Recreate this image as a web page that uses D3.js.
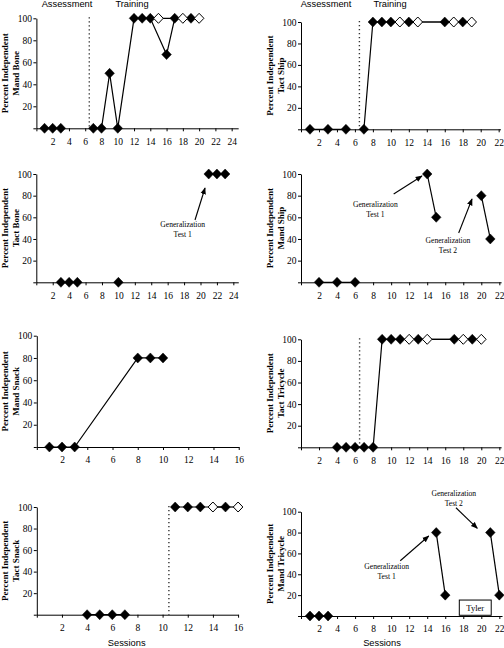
<!DOCTYPE html>
<html><head><meta charset="utf-8">
<script src="https://cdn.jsdelivr.net/npm/d3@7/dist/d3.min.js"></script>
<style>body{margin:0;background:#fff}svg{display:block}</style>
</head><body><svg id="c" width="504" height="648"></svg>
<script>
// ---------- DATA ----------
// Mand Bone
const mandBoneBaseSessions = [1, 2, 3];
const mandBoneBaseValues   = [0, 0, 0];
const mandBoneTrainSessions = [7, 8, 9, 10, 12, 13, 14, 16, 17, 19];
const mandBoneTrainValues   = [0, 0, 50, 0, 100, 100, 100, 67, 100, 100];
const mandBoneProbeSessions = [15, 18, 20];
const mandBoneProbeValues   = [100, 100, 100];
// Tact Ship
const tactShipBaseSessions = [1, 3, 5];
const tactShipBaseValues   = [0, 0, 0];
const tactShipTrainSessions = [7, 8, 9, 10, 12, 16, 18];
const tactShipTrainValues   = [0, 100, 100, 100, 100, 100, 100];
const tactShipProbeSessions = [11, 13, 17, 19];
const tactShipProbeValues   = [100, 100, 100, 100];
// Tact Bone
const tactBoneBaseSessions = [3, 4, 5];
const tactBoneBaseValues   = [0, 0, 0];
const tactBoneMidSessions = [10];
const tactBoneMidValues   = [0];
const tactBoneGenSessions = [21, 22, 23];
const tactBoneGenValues   = [100, 100, 100];
// Mand Ship
const mandShipBaseSessions = [2, 4, 6];
const mandShipBaseValues   = [0, 0, 0];
const mandShipGen1Sessions = [14, 15];
const mandShipGen1Values   = [100, 60];
const mandShipGen2Sessions = [20, 21];
const mandShipGen2Values   = [80, 40];
// Mand Snack
const mandSnackSessions = [1, 2, 3, 8, 9, 10];
const mandSnackValues   = [0, 0, 0, 80, 80, 80];
// Tact Tricycle
const tactTriTrainSessions = [4, 5, 6, 7, 8, 9, 10, 11, 13, 17, 19];
const tactTriTrainValues   = [0, 0, 0, 0, 0, 100, 100, 100, 100, 100, 100];
const tactTriProbeSessions = [12, 14, 18, 20];
const tactTriProbeValues   = [100, 100, 100, 100];
// Tact Snack
const tactSnackBaseSessions = [4, 5, 6, 7];
const tactSnackBaseValues   = [0, 0, 0, 0];
const tactSnackTrainSessions = [11, 12, 13, 15];
const tactSnackTrainValues   = [100, 100, 100, 100];
const tactSnackProbeSessions = [14, 16];
const tactSnackProbeValues   = [100, 100];
// Mand Tricycle
const mandTriBaseSessions = [1, 2, 3];
const mandTriBaseValues   = [0, 0, 0];
const mandTriGen1Sessions = [15, 16];
const mandTriGen1Values   = [80, 20];
const mandTriGen2Sessions = [21, 22];
const mandTriGen2Values   = [80, 20];

const yTickValues = [0, 20, 40, 60, 80, 100];
const xTicks24 = [2, 4, 6, 8, 10, 12, 14, 16, 18, 20, 22, 24];
const xTicks22 = [2, 4, 6, 8, 10, 12, 14, 16, 18, 20, 22];
const xTicks16 = [2, 4, 6, 8, 10, 12, 14, 16];

const phaseLabels = ["Assessment", "Training"];
const xTitle = "Sessions";
const yTitle1 = "Percent Independent";
const genLabel = "Generalization";

// ---------- LAYOUT ----------
const S = (s, v, open) => ({ s, v, open });
const panels = [
  { name: "Mand Bone", x0: 36.4, unit: 8.136, xEnd: 24.8, ticks: xTicks24, yTop: 18.3, yBot: 128.3, labX: 36,
    phase: 6.5, phaseText: [[67, "Assessment"], [132, "Training"]],
    series: [S(mandBoneBaseSessions, mandBoneBaseValues, false), S(mandBoneTrainSessions, mandBoneTrainValues, false), S(mandBoneProbeSessions, mandBoneProbeValues, true)] },
  { name: "Tact Ship", x0: 301, unit: 8.985, xEnd: 22.2, ticks: xTicks22, yTop: 22, yBot: 129.3, labX: 301,
    phase: 6.5, phaseText: [[326, "Assessment"], [390, "Training"]],
    series: [S(tactShipBaseSessions, tactShipBaseValues, false), S(tactShipTrainSessions, tactShipTrainValues, false), S(tactShipProbeSessions, tactShipProbeValues, true)] },
  { name: "Tact Bone", x0: 36.3, unit: 8.21, xEnd: 24.6, ticks: xTicks24, yTop: 174, yBot: 282.3, labX: 36,
    series: [S(tactBoneBaseSessions, tactBoneBaseValues, false), S(tactBoneMidSessions, tactBoneMidValues, false), S(tactBoneGenSessions, tactBoneGenValues, false)],
    notes: [{ tx: 17.83, ty: 51.5, lines: [genLabel, "Test 1"], ax: [19.33, 57.5], ah: [20.55, 87.1] }] },
  { name: "Mand Ship", x0: 301, unit: 9.015, xEnd: 22.2, ticks: xTicks22, yTop: 174, yBot: 282.3, labX: 301,
    series: [S(mandShipBaseSessions, mandShipBaseValues, false), S(mandShipGen1Sessions, mandShipGen1Values, false), S(mandShipGen2Sessions, mandShipGen2Values, false)],
    notes: [{ tx: 8.25, ty: 69.1, lines: [genLabel, "Test 1"], ax: [10.28, 81.5], ah: [13.42, 98.2] },
            { tx: 16.3, ty: 36.7, lines: [genLabel, "Test 2"], ax: [17.49, 45.5], ah: [18.97, 76.9] }] },
  { name: "Mand Snack", x0: 36.8, unit: 12.62, xEnd: 16, ticks: xTicks16, yTop: 335.7, yBot: 447, labX: 36,
    series: [S(mandSnackSessions, mandSnackValues, false)] },
  { name: "Tact Tricycle", x0: 301, unit: 9.015, xEnd: 22.2, ticks: xTicks22, yTop: 339.3, yBot: 447.3, labX: 301,
    phase: 6.5,
    series: [S(tactTriTrainSessions, tactTriTrainValues, false), S(tactTriProbeSessions, tactTriProbeValues, true)] },
  { name: "Tact Snack", x0: 36.8, unit: 12.58, xEnd: 16, ticks: xTicks16, yTop: 507, yBot: 614.7, labX: 36,
    phase: 10.5, xTitleX: 126.7,
    series: [S(tactSnackBaseSessions, tactSnackBaseValues, false), S(tactSnackTrainSessions, tactSnackTrainValues, false), S(tactSnackProbeSessions, tactSnackProbeValues, true)] },
  { name: "Mand Tricycle", x0: 301, unit: 9.015, xEnd: 22.3, ticks: xTicks22, yTop: 511.7, yBot: 616, labX: 301,
    xTitleX: 382,
    series: [S(mandTriBaseSessions, mandTriBaseValues, false), S(mandTriGen1Sessions, mandTriGen1Values, false), S(mandTriGen2Sessions, mandTriGen2Values, false)],
    notes: [{ tx: 9.5, ty: 45.1, lines: [genLabel, "Test 1"], ax: [11.01, 53.0], ah: [14.17, 76.7] },
            { tx: 16.95, ty: 114.6, lines: [genLabel, "Test 2"], ax: [17.19, 103.8], ah: [19.56, 84.1] }],
    box: { x1: 17.56, x2: 21.1, y1: 15.3, y2: 0.7, text: "Tyler" } }
];

const svg = d3.select("#c");
const defs = svg.append("defs");
defs.append("marker").attr("id", "ah").attr("viewBox", "0 0 10 10").attr("refX", 9).attr("refY", 5)
  .attr("markerWidth", 7).attr("markerHeight", 7).attr("markerUnits", "userSpaceOnUse").attr("orient", "auto")
  .append("path").attr("d", "M0,1L10,5L0,9Z").attr("fill", "#000");

const serif = "'Liberation Serif','Times New Roman',serif";
const sans = "'Liberation Sans',Arial,sans-serif";
const diamond = "M0,-5L4.8,0L0,5L-4.8,0Z";

panels.forEach(p => {
  const x = d3.scaleLinear().domain([0, p.xEnd]).range([p.x0, p.x0 + p.unit * p.xEnd]);
  const y = d3.scaleLinear().domain([0, 100]).range([p.yBot, p.yTop]);
  const g = svg.append("g");

  // x axis
  const xa = g.append("g").attr("transform", `translate(0,${p.yBot})`)
    .call(d3.axisBottom(x).tickValues([0].concat(p.ticks)).tickFormat(d => d === 0 ? "" : d)
      .tickSize(3).tickSizeOuter(0).tickPadding(6.5));
  // y axis
  const ya = g.append("g").attr("transform", `translate(${p.x0},0)`)
    .call(d3.axisLeft(y).tickValues(yTickValues).tickFormat(d => d === 0 ? "" : d)
      .tickSize(3).tickSizeOuter(0).tickPadding(1.5));
  [xa, ya].forEach(a => {
    a.selectAll("path,line").attr("stroke", "#000").attr("stroke-width", 1);
    a.selectAll("text").attr("fill", "#000").style("font-family", serif).style("font-size", "9.5px");
  });

  // y title
  const cy = (p.yTop + p.yBot) / 2;
  const lx = p.labX === 36 ? 0 : 265;
  g.append("text").attr("transform", `translate(${lx + 8.3},${cy}) rotate(-90)`).attr("text-anchor", "middle")
    .style("font-family", serif).style("font-weight", "bold").style("font-size", "9px").text(yTitle1);
  g.append("text").attr("transform", `translate(${lx + 18.8},${cy}) rotate(-90)`).attr("text-anchor", "middle")
    .style("font-family", serif).style("font-weight", "bold").style("font-size", "9px").text(p.name);

  // phase line
  if (p.phase !== undefined) {
    g.append("line").attr("x1", x(p.phase)).attr("x2", x(p.phase)).attr("y1", y(101)).attr("y2", y(0))
      .attr("stroke", "#333").attr("stroke-width", 1.4).attr("stroke-dasharray", "1.3,2.7");
  }
  if (p.phaseText) {
    p.phaseText.forEach(([tx, t]) => g.append("text").attr("x", tx).attr("y", 6.5).attr("text-anchor", "middle")
      .style("font-family", sans).style("font-size", "9.3px").text(t));
  }
  if (p.xTitleX !== undefined) {
    g.append("text").attr("x", p.xTitleX).attr("y", 646).attr("text-anchor", "middle")
      .style("font-family", sans).style("font-size", "9.3px").text(xTitle);
  }

  // lines
  const line = d3.line().x(d => x(d[0])).y(d => y(d[1]));
  p.series.forEach(s => {
    const pts = s.s.map((v, i) => [v, s.v[i]]);
    if (pts.length > 1) g.append("path").attr("d", line(pts)).attr("fill", "none").attr("stroke", "#000").attr("stroke-width", 1.2);
  });
  // markers (filled first, then open on top)
  p.series.forEach(s => {
    s.s.forEach((v, i) => {
      g.append("path").attr("d", diamond).attr("transform", `translate(${x(v)},${y(s.v[i])})`)
        .attr("fill", s.open ? "#fff" : "#000").attr("stroke", "#000").attr("stroke-width", s.open ? 1 : 0.5);
    });
  });

  // annotations
  (p.notes || []).forEach(n => {
    n.lines.forEach((t, i) => g.append("text").attr("x", x(n.tx)).attr("y", y(n.ty) + i * 10).attr("text-anchor", "middle")
      .style("font-family", serif).style("font-size", "7.6px").text(t));
    g.append("line").attr("x1", x(n.ax[0])).attr("y1", y(n.ax[1])).attr("x2", x(n.ah[0])).attr("y2", y(n.ah[1]))
      .attr("stroke", "#000").attr("stroke-width", 1.1).attr("marker-end", "url(#ah)");
  });
  if (p.box) {
    const b = p.box;
    g.append("rect").attr("x", x(b.x1)).attr("y", y(b.y1)).attr("width", x(b.x2) - x(b.x1)).attr("height", y(b.y2) - y(b.y1))
      .attr("fill", "#fff").attr("stroke", "#000").attr("stroke-width", 1);
    g.append("text").attr("x", (x(b.x1) + x(b.x2)) / 2).attr("y", (y(b.y1) + y(b.y2)) / 2 + 3).attr("text-anchor", "middle")
      .style("font-family", serif).style("font-size", "8.5px").text(b.text);
  }
});
</script></body></html>
